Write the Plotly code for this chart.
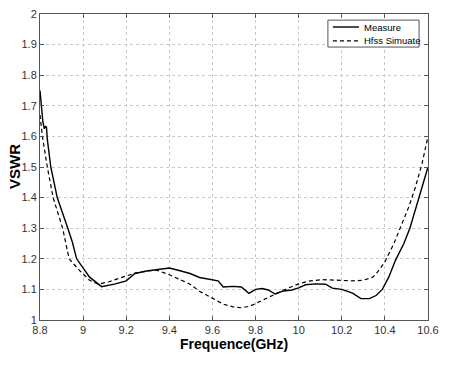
import plotly.graph_objects as go

# Measured curve
meas_f = [8.800, 8.806, 8.813, 8.820, 8.826, 8.830, 8.834, 8.850, 8.880, 8.929, 8.950, 8.970,
          9.030, 9.086, 9.150, 9.200, 9.240, 9.295, 9.340, 9.400, 9.450, 9.496, 9.540, 9.600,
          9.626, 9.650, 9.695, 9.734, 9.769, 9.800, 9.831, 9.859, 9.891, 9.930, 9.969, 10.000,
          10.031, 10.078, 10.125, 10.156, 10.200, 10.250, 10.289, 10.328, 10.359, 10.388, 10.418,
          10.449, 10.488, 10.516, 10.542, 10.572, 10.600]
meas_v = [1.750, 1.700, 1.650, 1.625, 1.632, 1.630, 1.590, 1.500, 1.400, 1.300, 1.255, 1.200,
          1.140, 1.109, 1.118, 1.128, 1.152, 1.160, 1.164, 1.170, 1.161, 1.152, 1.139, 1.130,
          1.128, 1.108, 1.110, 1.108, 1.087, 1.100, 1.103, 1.098, 1.085, 1.095, 1.098, 1.105,
          1.115, 1.118, 1.117, 1.104, 1.100, 1.088, 1.070, 1.070, 1.080, 1.100, 1.140,
          1.195, 1.250, 1.300, 1.360, 1.435, 1.500]

# HFSS simulated curve
sim_f = [8.800, 8.811, 8.834, 8.861, 8.905, 8.920, 8.935, 8.986, 9.030, 9.070, 9.120, 9.200,
         9.240, 9.295, 9.340, 9.400, 9.450, 9.496, 9.540, 9.600, 9.650, 9.695, 9.734, 9.773,
         9.812, 9.859, 9.906, 9.953, 10.000, 10.047, 10.109, 10.188, 10.250, 10.300, 10.344,
         10.365, 10.400, 10.442, 10.472, 10.511, 10.542, 10.572, 10.600]
sim_v = [1.670, 1.600, 1.500, 1.400, 1.300, 1.250, 1.200, 1.160, 1.130, 1.117, 1.125, 1.144,
         1.153, 1.160, 1.163, 1.148, 1.133, 1.117, 1.094, 1.070, 1.052, 1.043, 1.040, 1.045,
         1.058, 1.075, 1.090, 1.105, 1.118, 1.127, 1.132, 1.130, 1.128, 1.130, 1.140,
         1.156, 1.190, 1.250, 1.304, 1.370, 1.435, 1.510, 1.600]

series_names = ["Measure", "Hfss Simuate"]

x_ticks = [8.8, 9.0, 9.2, 9.4, 9.6, 9.8, 10.0, 10.2, 10.4, 10.6]
x_labels = ["8.8", "9", "9.2", "9.4", "9.6", "9.8", "10", "10.2", "10.4", "10.6"]
y_ticks = [1.0, 1.1, 1.2, 1.3, 1.4, 1.5, 1.6, 1.7, 1.8, 1.9, 2.0]
y_labels = ["1", "1.1", "1.2", "1.3", "1.4", "1.5", "1.6", "1.7", "1.8", "1.9", "2"]

FONT = "Liberation Sans, Arial"
SOLID = dict(color="black", width=1.4)
DASHED = dict(color="black", width=1.2, dash="4px,3px")

fig = go.Figure()
fig.add_trace(go.Scatter(x=meas_f, y=meas_v, mode="lines", name=series_names[0],
                         line=SOLID, showlegend=False))
fig.add_trace(go.Scatter(x=sim_f, y=sim_v, mode="lines", name=series_names[1],
                         line=DASHED, showlegend=False))

axis_common = dict(
    showline=True, linecolor="#555555", linewidth=1, mirror="allticks",
    ticks="inside", ticklen=4, tickcolor="#555555",
    showgrid=True, gridcolor="#c8c8c8", griddash="dot", gridwidth=1,
    zeroline=False, automargin=False,
    tickfont=dict(family=FONT, size=11, color="#333333"),
)

fig.update_xaxes(range=[8.8, 10.6], tickvals=x_ticks, ticktext=x_labels, **axis_common)
fig.update_yaxes(range=[1.0, 2.0], tickvals=y_ticks, ticktext=y_labels, **axis_common)

# axis titles
fig.add_annotation(text="<b>Frequence(GHz)</b>", xref="paper", yref="paper",
                   x=0.5, y=-0.08, xanchor="center", yanchor="middle", showarrow=False,
                   font=dict(family=FONT, size=14, color="black"))
fig.add_annotation(text="<b>VSWR</b>", xref="paper", yref="paper",
                   x=-0.067, y=0.5, xanchor="center", yanchor="middle", showarrow=False,
                   textangle=-90, font=dict(family=FONT, size=15, color="black"))

# legend box (MATLAB style, compact)
fig.add_shape(type="rect", xref="paper", yref="paper", x0=0.742, x1=0.977, y0=0.892, y1=0.980,
              line=dict(color="#555555", width=1), fillcolor="white", layer="above")
fig.add_shape(type="line", xref="paper", yref="paper", x0=0.755, x1=0.822, y0=0.9575, y1=0.9575,
              line=SOLID, layer="above")
fig.add_shape(type="line", xref="paper", yref="paper", x0=0.755, x1=0.822, y0=0.912, y1=0.912,
              line=DASHED, layer="above")
for name, yy in zip(series_names, [0.9575, 0.912]):
    fig.add_annotation(text=name, xref="paper", yref="paper", x=0.829, y=yy,
                       xanchor="left", yanchor="middle", showarrow=False,
                       font=dict(family=FONT, size=9.5, color="black"))

fig.update_layout(
    width=450, height=366,
    margin=dict(l=40, r=22, t=14, b=46),
    paper_bgcolor="white", plot_bgcolor="white",
    showlegend=False,
)

# remove the browser's default 8px body margin so the figure fills the window exactly
fig.write_html("out.html", config={"displayModeBar": False},
               post_script="document.body.style.margin='0';")
